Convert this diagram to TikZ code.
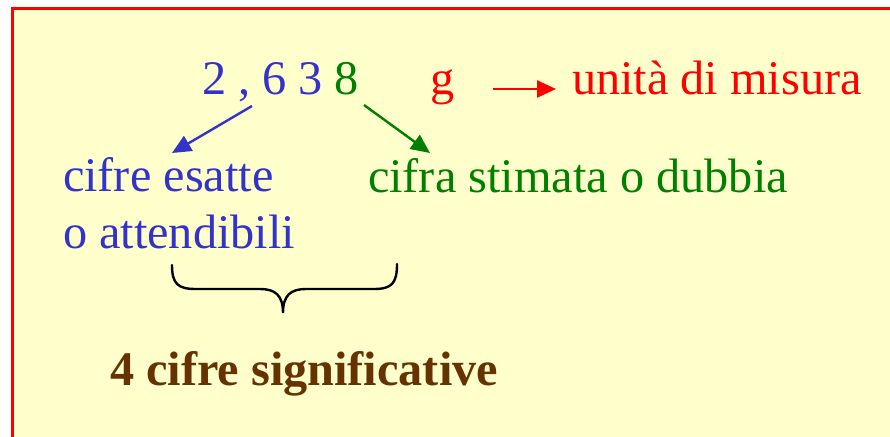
\documentclass[tikz,border=0pt]{standalone}
\usepackage{fontspec}
\setmainfont{Liberation Serif}
\usetikzlibrary{arrows.meta}
\definecolor{bgyellow}{HTML}{FFFFCC}
\definecolor{framered}{HTML}{FF0000}
\definecolor{txtblue}{HTML}{3333CC}
\definecolor{txtgreen}{HTML}{008000}
\definecolor{txtred}{HTML}{FF0000}
\definecolor{txtbrown}{HTML}{663300}
\tikzset{
  lbl/.style={inner sep=0pt, outer sep=0pt, anchor=base west, font=\fontsize{48.3}{58}\selectfont},
  arr/.style={line width=2.4pt, -{Triangle[length=19pt,width=17pt]}},
  bracestyle/.style={line width=2.4pt, black, line cap=round},
}
\begin{document}
\begin{tikzpicture}[x=1pt,y=-1pt]
\useasboundingbox (0,0) rectangle (890,436);
\clip (0,0) rectangle (890,436);
\fill[white] (0,0) rectangle (890,436);
\draw[framered, line width=3pt, fill=bgyellow] (12.5,9) rectangle (905,450);

\node[lbl, text=txtblue] (num) at (202,94) {2 , 6 3};
\node[lbl, text=txtgreen] (dig) at (334,94) {8};
\node[lbl, text=txtred] (unit) at (430,94) {g};
\node[lbl, text=txtred] (umis) at (572,94) {unità di misura};
\node[lbl, text=txtblue] (esatte) at (63,191) {cifre esatte};
\node[lbl, text=txtblue] (attend) at (63,248) {o attendibili};
\node[lbl, text=txtgreen] (stim) at (368,192) {cifra stimata o dubbia};
\node[lbl, text=txtbrown, font=\fontsize{48.3}{58}\selectfont\bfseries] (sig) at (110,385) {4 cifre significative};

\coordinate (ra) at (493,89);
\coordinate (rb) at (556,89);
\coordinate (ba) at (252,106);
\coordinate (bb) at (172,153);
\coordinate (ga) at (364,105);
\coordinate (gb) at (430,153);

\draw[arr, txtred] (ra) -- (rb);
\draw[arr, txtblue] (ba) -- (bb);
\draw[arr, txtgreen] (ga) -- (gb);

\draw[bracestyle] (172,265) .. controls (172,284) and (178,289) .. (196,289) -- (260,289)
  .. controls (275,289) and (283,295) .. (283,313)
  .. controls (283,295) and (291,289) .. (306,289) -- (374,289)
  .. controls (392,289) and (397,283) .. (397,264);
\end{tikzpicture}
\end{document}
